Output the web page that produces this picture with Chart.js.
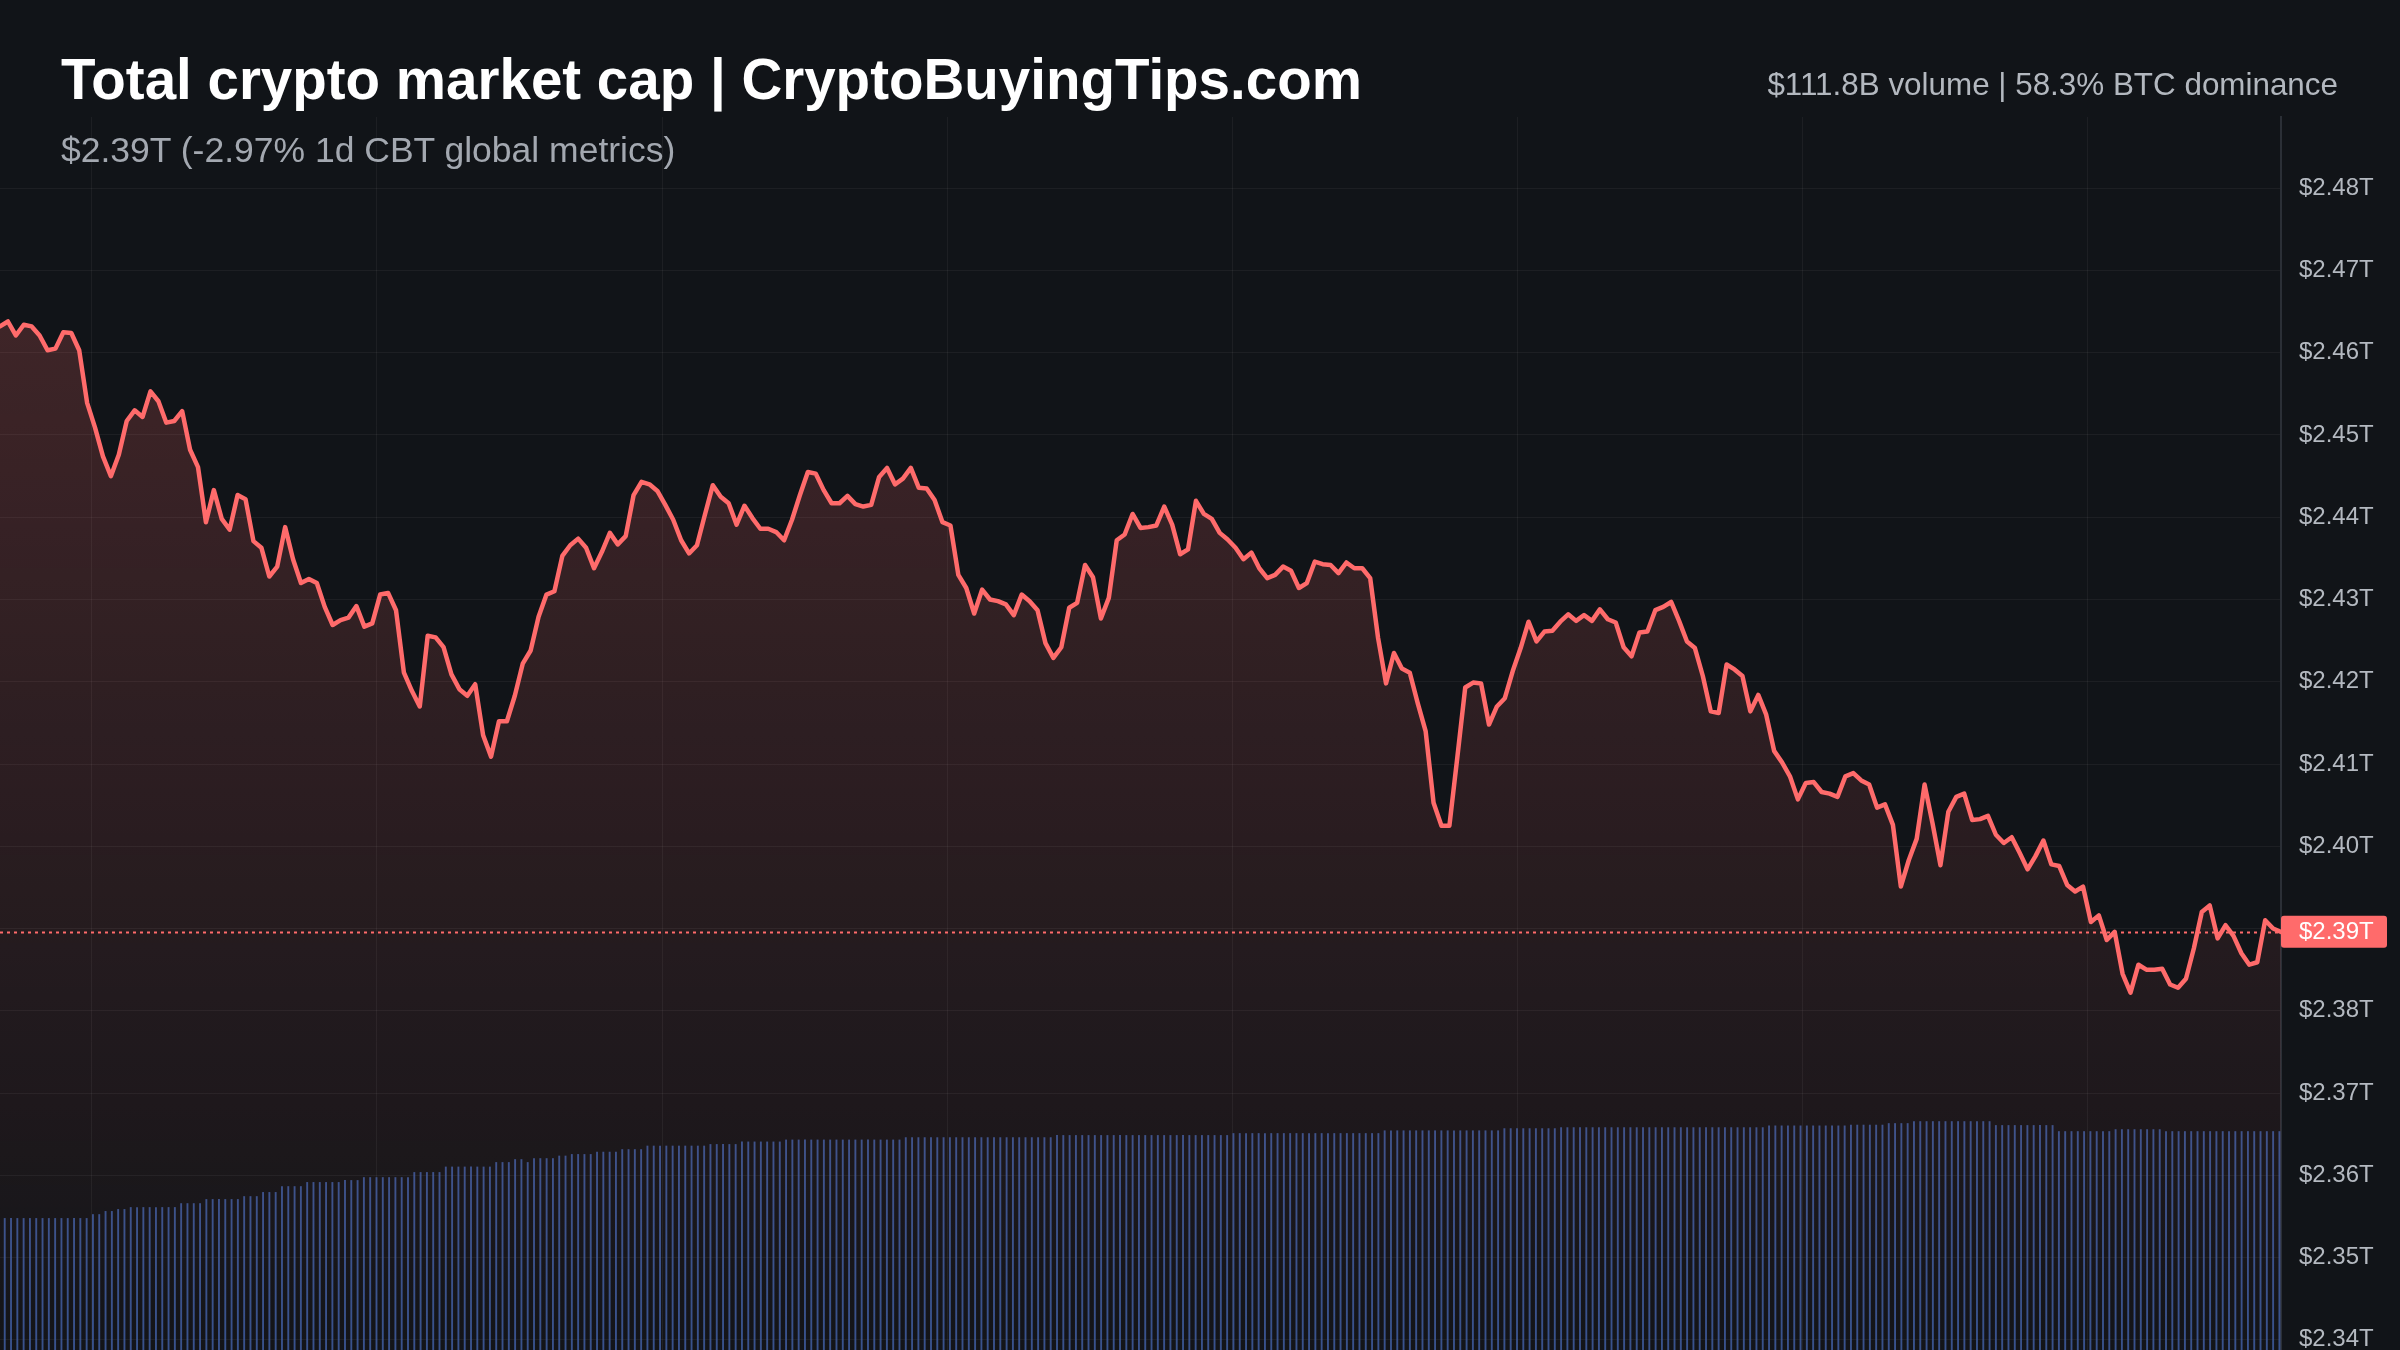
<!DOCTYPE html>
<html>
<head>
<meta charset="utf-8">
<script src="https://cdn.jsdelivr.net/npm/chart.js@4.4.1/dist/chart.umd.min.js"></script>
<style>
html,body{margin:0;padding:0;background:#111418;width:2400px;height:1350px;overflow:hidden;}
#wrap{position:relative;width:2400px;height:1350px;}
canvas{position:absolute;left:0;top:0;}
.t{position:absolute;white-space:nowrap;line-height:1;font-family:"Liberation Sans",Arial,Helvetica,sans-serif;}
#title{left:61px;top:52px;font-size:56.5px;font-weight:bold;color:#ffffff;}
#sub{left:61px;top:133px;font-size:35.5px;color:#a3a8b0;}
#stats{right:62px;top:69px;font-size:31.4px;color:#b3b8bf;}
</style>
</head>
<body>
<div id="wrap">
<canvas id="c" width="2400" height="1350"></canvas>
<div class="t" id="title">Total crypto market cap | CryptoBuyingTips.com</div>
<div class="t" id="sub">$2.39T (-2.97% 1d CBT global metrics)</div>
<div class="t" id="stats">$111.8B volume | 58.3% BTC dominance</div>
</div>
<script>
// Total market cap, trillions USD, one sample every 5 minutes
const capValues = [
 2.4632,2.4638,2.4621,2.4634,2.4632,2.4621,2.4603,2.4605,2.4625,2.4624,
 2.4603,2.4539,2.4509,2.4474,2.4450,2.4476,2.4517,2.4530,2.4522,2.4553,
 2.4541,2.4515,2.4517,2.4529,2.4482,2.4461,2.4394,2.4433,2.4398,2.4385,
 2.4427,2.4422,2.4371,2.4363,2.4328,2.4340,2.4388,2.4349,2.4320,2.4325,
 2.4320,2.4291,2.4269,2.4275,2.4278,2.4292,2.4267,2.4271,2.4306,2.4308,
 2.4287,2.4211,2.4189,2.4170,2.4256,2.4254,2.4242,2.4209,2.4191,2.4183,
 2.4197,2.4135,2.4109,2.4152,2.4152,2.4183,2.4222,2.4238,2.4279,2.4306,
 2.4310,2.4353,2.4366,2.4374,2.4363,2.4338,
 2.4358,2.4381,2.4367,2.4377,2.4427,2.4443,2.4440,2.4432,2.4415,2.4397,
 2.4372,2.4356,2.4366,2.4403,2.4439,2.4425,2.4417,2.4391,2.4414,2.4399,
 2.4386,2.4386,2.4382,2.4372,2.4397,2.4427,2.4455,2.4453,2.4433,2.4417,
 2.4417,2.4426,2.4416,2.4413,2.4415,2.4449,2.4460,2.4440,2.4447,2.4460,
 2.4436,2.4435,2.4421,2.4394,2.4390,2.4330,2.4314,2.4283,2.4312,2.4300,
 2.4298,2.4294,2.4281,2.4306,2.4298,2.4287,2.4247,2.4229,2.4242,2.4290,
 2.4296,2.4342,2.4327,2.4277,2.4302,2.4372,2.4379,2.4404,2.4387,2.4388,
 2.4390,2.4413,2.4391,
 2.4355,2.4361,2.4420,
 2.4404,2.4398,2.4381,2.4373,2.4363,2.4349,2.4357,2.4338,2.4326,2.4330,
 2.4340,2.4335,2.4314,2.4320,2.4346,2.4343,2.4342,2.4332,2.4345,2.4338,
 2.4338,2.4326,2.4253,2.4198,2.4235,2.4216,2.4211,2.4174,2.4140,2.4053,
 2.4025,2.4025,2.4108,2.4193,2.4199,2.4198,2.4148,2.4170,2.4180,2.4213,
 2.4241,2.4273,2.4249,2.4261,2.4262,2.4273,2.4282,2.4274,2.4281,2.4274,
 2.4288,2.4276,2.4272,2.4242,2.4231,2.4260,2.4261,2.4287,2.4291,2.4297,
 2.4274,2.4249,2.4241,2.4207,2.4164,2.4162,2.4221,2.4215,2.4207,2.4164,
 2.4184,2.4160,2.4116,2.4102,
 2.4085,2.4057,2.4077,2.4078,2.4066,2.4064,2.4060,2.4085,2.4089,2.4080,
 2.4075,2.4047,2.4051,2.4026,2.3951,2.3983,2.4009,2.4075,2.4028,2.3977,
 2.4042,2.4060,2.4064,2.4032,2.4033,2.4037,2.4014,2.4004,2.4011,2.3992,
 2.3972,2.3988,2.4007,2.3978,2.3976,2.3953,2.3945,2.3951,2.3908,2.3916,
 2.3886,2.3896,2.3845,2.3822,2.3856,2.3850,2.3850,2.3851,2.3832,2.3828,
 2.3839,2.3876,2.3920,2.3928,2.3888,2.3904,2.3891,2.3870,2.3856,2.3859,
 2.3910,2.3900,2.3896
];

// Rolling volume bars, billions USD
const volumeValues = [
 67.4,67.4,67.4,67.4,67.4,67.4,67.4,67.4,67.4,67.4,67.4,67.4,67.4,67.4,
 69.4,69.4,71.0,71.0,72.0,72.0,
 73.0,73.0,73.0,73.0,73.0,73.0,73.0,73.0,
 75.0,75.0,75.0,75.0,
 77.1,77.1,77.1,77.1,77.1,77.1,
 78.6,78.6,78.6,80.7,80.7,80.7,
 83.7,83.7,83.7,83.7,
 85.8,85.8,85.8,85.8,85.8,85.8,
 86.8,86.8,86.8,
 88.3,88.3,88.3,88.3,88.3,88.3,88.3,88.3,
 90.9,90.9,90.9,90.9,90.9,
 93.7,93.7,93.7,93.7,93.7,93.7,93.7,93.7,
 96.0,96.0,96.0,97.5,97.5,96.0,
 98.0,98.0,98.0,98.0,99.3,99.3,
 100.1,100.1,100.1,100.1,
 101.3,101.3,101.3,101.3,
 102.6,102.6,102.6,102.6,
 104.4,104.4,104.4,104.4,104.4,104.4,104.4,104.4,104.4,104.4,
 105.2,105.2,105.2,105.2,105.2,
 106.5,106.5,106.5,106.5,106.5,106.5,106.5,
 107.5,107.5,107.5,107.5,107.5,107.5,107.5,107.5,107.5,107.5,
 107.5,107.5,107.5,107.5,107.5,107.5,107.5,107.5,107.5,
 108.7,108.7,108.7,108.7,108.7,108.7,108.7,108.7,108.7,108.7,
 108.7,108.7,108.7,108.7,108.7,108.7,108.7,108.7,108.7,108.7,
 108.7,108.7,108.7,108.7,
 109.8,109.8,109.8,109.8,109.8,109.8,109.8,109.8,109.8,109.8,
 109.8,109.8,109.8,109.8,109.8,109.8,109.8,109.8,109.8,109.8,
 109.8,109.8,109.8,109.8,109.8,109.8,109.8,109.8,
 110.8,110.8,110.8,110.8,110.8,110.8,110.8,110.8,110.8,110.8,
 110.8,110.8,110.8,110.8,110.8,110.8,110.8,110.8,110.8,110.8,
 110.8,110.8,110.8,110.8,
 112.2,112.2,112.2,112.2,112.2,112.2,112.2,112.2,112.2,112.2,
 112.2,112.2,112.2,112.2,112.2,112.2,112.2,112.2,112.2,
 113.3,113.3,113.3,113.3,113.3,113.3,113.3,113.3,113.3,
 113.8,113.8,113.8,113.8,113.8,113.8,113.8,113.8,113.8,113.8,
 113.8,113.8,113.8,113.8,113.8,113.8,113.8,113.8,113.8,113.8,
 113.8,113.8,113.8,113.8,113.8,113.8,113.8,113.8,113.8,113.8,
 113.8,113.8,113.8,
 114.7,114.7,114.7,114.7,114.7,114.7,114.7,114.7,114.7,114.7,
 114.7,114.7,114.7,
 115.1,115.1,115.1,115.1,115.1,115.1,
 115.9,115.9,115.9,115.9,
 116.9,116.9,116.9,116.9,116.9,116.9,116.9,116.9,116.9,116.9,
 116.9,116.9,116.9,
 114.9,114.9,114.9,114.9,114.9,114.9,114.9,114.9,114.9,114.9,
 111.8,111.8,111.8,111.8,111.8,111.8,111.8,111.8,111.8,
 112.8,112.8,112.8,112.8,112.8,112.8,112.8,112.8,
 111.8,111.8,111.8,111.8,111.8,111.8,111.8,111.8,111.8,111.8,
 111.8,111.8,111.8,111.8,111.8,111.8,111.8,111.8,111.8
];

// Price axis ticks (trillions)
const priceTicks = [2.34,2.35,2.36,2.37,2.38,2.39,2.40,2.41,2.42,2.43,2.44,2.45,2.46,2.47,2.48];
const priceMin = 2.33876, priceMax = 2.48866;
const volumeAxisMax = 630;

// Time axis: 5-minute samples, grid every 3 hours
const sampleStepMinutes = 5;
const firstGridMinute = 58;
const gridStepMinutes = 180;

const sampleMinutes = capValues.map((_, i) => i * sampleStepMinutes);
const spanMinutes = sampleMinutes[sampleMinutes.length - 1];
const gridMinutes = [];
for (let m = firstGridMinute; m < spanMinutes; m += gridStepMinutes) gridMinutes.push(m);
const lastPrice = capValues[capValues.length - 1];

const lineColor = '#ff6b6b';
const fontFamily = '"Liberation Sans", Arial, Helvetica, sans-serif';
const fmt = v => '$' + Number(v).toFixed(2) + 'T';

const priceMarker = {
  id: 'priceMarker',
  beforeDatasetsDraw(chart) {
    const {ctx, chartArea, scales} = chart;
    const py = Math.round(scales.y.getPixelForValue(lastPrice)) + 0.5;
    ctx.save();
    ctx.strokeStyle = lineColor;
    ctx.lineWidth = 2;
    ctx.setLineDash([3, 4]);
    ctx.beginPath();
    ctx.moveTo(chartArea.left, py);
    ctx.lineTo(chartArea.right, py);
    ctx.stroke();
    ctx.restore();
  },
  afterDraw(chart) {
    const {ctx, chartArea, scales} = chart;
    const py = scales.y.getPixelForValue(lastPrice);
    const x0 = chartArea.right, w = 106, h = 32;
    ctx.save();
    ctx.fillStyle = lineColor;
    ctx.beginPath();
    ctx.roundRect(x0, py - h / 2, w, h, 3);
    ctx.fill();
    ctx.fillStyle = '#ffffff';
    ctx.font = '24px ' + fontFamily;
    ctx.textBaseline = 'middle';
    ctx.textAlign = 'left';
    ctx.fillText(fmt(lastPrice), x0 + 18, py + 1);
    ctx.restore();
  }
};

new Chart(document.getElementById('c'), {
  type: 'line',
  data: {
    datasets: [
      {
        type: 'line',
        data: capValues.map((v, i) => ({x: sampleMinutes[i], y: v})),
        xAxisID: 'x',
        yAxisID: 'y',
        borderColor: lineColor,
        borderWidth: 4.5,
        borderJoinStyle: 'round',
        borderCapStyle: 'round',
        pointRadius: 0,
        tension: 0,
        fill: 'start',
        backgroundColor: (c) => {
          const ch = c.chart, a = ch.chartArea;
          if (!a) return 'rgba(255,107,107,0.1)';
          const g = ch.ctx.createLinearGradient(0, a.top, 0, a.bottom);
          g.addColorStop(0, 'rgba(255,107,107,0.23)');
          g.addColorStop(1, 'rgba(255,107,107,0.01)');
          return g;
        },
        order: 0
      },
      {
        type: 'bar',
        data: volumeValues,
        xAxisID: 'xv',
        yAxisID: 'yv',
        backgroundColor: 'rgba(64,98,170,0.8)',
        borderWidth: 0,
        barPercentage: 0.6,
        categoryPercentage: 1,
        order: 1
      }
    ]
  },
  options: {
    responsive: false,
    animation: false,
    devicePixelRatio: 1,
    events: [],
    layout: {padding: {top: 117, left: 0, right: 0, bottom: 0}, autoPadding: false},
    plugins: {legend: {display: false}, tooltip: {enabled: false}, title: {display: false}},
    scales: {
      x: {
        type: 'linear',
        min: 0,
        max: spanMinutes,
        offset: false,
        ticks: {display: false},
        grid: {color: 'rgba(255,255,255,0.05)', drawTicks: false, offset: false, lineWidth: 1},
        border: {display: false},
        afterBuildTicks: s => { s.ticks = gridMinutes.map(v => ({value: v})); },
        afterFit: s => { s.height = 0; s.paddingLeft = 0; s.paddingRight = 0; }
      },
      xv: {
        type: 'category',
        labels: volumeValues.map((_, i) => String(i)),
        offset: true,
        display: false
      },
      y: {
        type: 'linear',
        position: 'right',
        min: priceMin,
        max: priceMax,
        afterBuildTicks: s => { s.ticks = priceTicks.map(v => ({value: v})); },
        ticks: {
          callback: v => fmt(v),
          color: '#b4b9c0',
          font: {size: 24, family: fontFamily},
          padding: 18
        },
        grid: {color: 'rgba(255,255,255,0.05)', drawTicks: false, lineWidth: 1},
        border: {display: true, color: '#2b2f36', width: 2},
        afterFit: s => { s.width = 119; s.paddingTop = 0; s.paddingBottom = 0; }
      },
      yv: {
        type: 'linear',
        min: 0,
        max: volumeAxisMax,
        display: false
      }
    }
  },
  plugins: [priceMarker]
});
</script>
</body>
</html>
